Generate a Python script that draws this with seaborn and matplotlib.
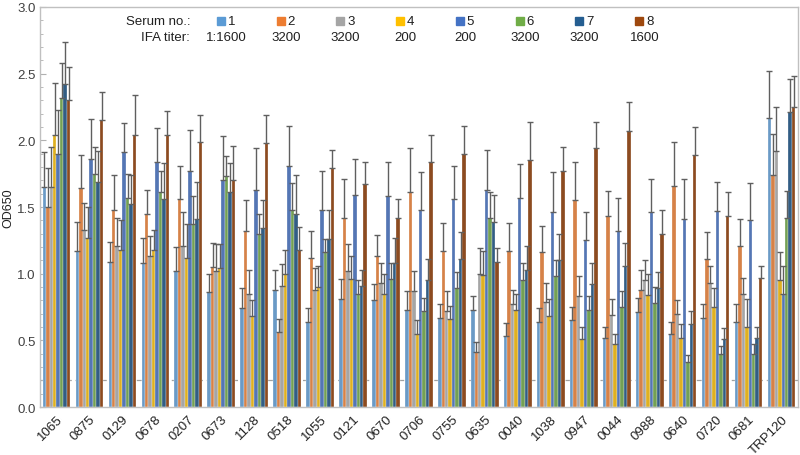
import numpy as np
import pandas as pd
import seaborn as sns
from matplotlib import pyplot as plt
from matplotlib.patches import Rectangle
from matplotlib.ticker import MultipleLocator, FormatStrFormatter

categories = ["1065", "0875", "0129", "0678", "0207", "0673", "1128", "0518",
              "1055", "0121", "0670", "0706", "0755", "0635", "0040", "1038",
              "0947", "0044", "0988", "0640", "0720", "0681", "TRP120"]
serum_no = ["1", "2", "3", "4", "5", "6", "7", "8"]
ifa_titer = ["1:1600", "3200", "3200", "200", "200", "3200", "3200", "1600"]
colors = ["#5B9BD5", "#ED7D31", "#A5A5A5", "#FFC000",
          "#4472C4", "#70AD47", "#255E91", "#9E480E"]

# mean OD650 per serum (one list per serum, in category order)
s1 = [1.65, 1.17, 1.09, 1.08, 1.02, 0.86, 0.74, 0.88, 0.64, 0.81, 0.80, 0.73,
      0.67, 0.73, 0.53, 0.64, 0.65, 0.52, 0.71, 0.55, 0.67, 0.64, 2.17]
s2 = [1.50, 1.64, 1.48, 1.45, 1.56, 1.05, 1.32, 0.56, 1.12, 1.42, 1.13, 1.61,
      1.17, 0.41, 1.17, 1.16, 1.55, 1.43, 0.88, 1.66, 1.11, 1.21, 1.74]
s3 = [1.65, 1.33, 1.21, 1.13, 1.21, 1.02, 0.85, 0.91, 0.88, 1.02, 0.93, 0.87,
      0.72, 1.00, 0.77, 0.79, 0.83, 0.69, 0.95, 0.70, 0.93, 0.85, 1.92]
s4 = [2.04, 1.27, 1.18, 1.18, 1.12, 1.04, 0.68, 1.00, 0.90, 0.96, 0.85, 0.55,
      0.66, 0.99, 0.73, 0.68, 0.51, 0.47, 0.84, 0.52, 0.75, 0.60, 0.95]
s5 = [1.90, 1.86, 1.91, 1.84, 1.77, 1.70, 1.63, 1.81, 1.48, 1.59, 1.58, 1.48,
      1.56, 1.63, 1.57, 1.46, 1.25, 1.32, 1.46, 1.41, 1.47, 1.40, 0.85]
s6 = [2.32, 1.75, 1.57, 1.61, 1.37, 1.73, 1.30, 1.48, 1.16, 0.85, 0.96, 0.72,
      0.89, 1.42, 0.95, 0.98, 0.73, 0.75, 0.78, 0.34, 0.40, 0.40, 1.42]
s7 = [2.42, 1.69, 1.52, 1.56, 1.41, 1.61, 1.34, 1.45, 1.26, 0.91, 1.08, 0.95,
      1.11, 1.39, 1.03, 1.10, 0.92, 1.06, 0.89, 0.62, 0.51, 0.52, 2.21]
s8 = [2.30, 2.15, 2.04, 2.04, 1.99, 1.70, 1.98, 1.18, 1.79, 1.67, 1.42, 1.84,
      1.90, 1.09, 1.85, 1.77, 1.94, 2.07, 1.30, 1.89, 1.43, 0.97, 2.25]

# top of the error bar per serum
e1 = [1.91, 1.39, 1.24, 1.27, 1.20, 1.00, 0.89, 1.03, 0.74, 0.96, 0.92, 0.87,
      0.77, 0.83, 0.63, 0.74, 0.75, 0.60, 0.82, 0.64, 0.77, 0.77, 2.52]
e2 = [1.79, 1.89, 1.74, 1.63, 1.81, 1.23, 1.55, 0.66, 1.32, 1.71, 1.29, 1.94,
      1.38, 0.49, 1.38, 1.36, 1.84, 1.62, 1.03, 1.99, 1.31, 1.41, 2.05]
e3 = [1.95, 1.53, 1.42, 1.28, 1.46, 1.22, 1.03, 1.07, 1.04, 1.22, 1.08, 1.02,
      0.87, 1.19, 0.88, 0.93, 0.98, 0.81, 1.10, 0.80, 1.06, 0.97, 2.25]
e4 = [2.43, 1.50, 1.40, 1.33, 1.37, 1.22, 0.80, 1.18, 1.06, 1.13, 1.00, 0.65,
      0.76, 1.17, 0.85, 0.81, 0.60, 0.55, 1.00, 0.62, 0.89, 0.81, 1.16]
e5 = [2.23, 2.16, 2.13, 2.09, 2.08, 2.03, 1.94, 2.11, 1.77, 1.86, 1.84, 1.76,
      1.81, 1.93, 1.82, 1.76, 1.46, 1.57, 1.71, 1.71, 1.69, 1.68, 1.06]
e6 = [2.58, 1.95, 1.75, 1.77, 1.58, 1.88, 1.45, 1.68, 1.26, 0.95, 1.08, 0.82,
      1.01, 1.61, 1.08, 1.10, 0.83, 0.87, 0.90, 0.39, 0.46, 0.47, 1.62]
e7 = [2.74, 1.92, 1.74, 1.83, 1.69, 1.83, 1.55, 1.74, 1.48, 1.03, 1.27, 1.11,
      1.31, 1.59, 1.21, 1.30, 1.08, 1.23, 1.01, 0.72, 0.59, 0.60, 2.46]
e8 = [2.55, 2.36, 2.34, 2.22, 2.19, 1.96, 2.19, 1.35, 1.93, 1.84, 1.56, 2.04,
      2.11, 1.19, 2.14, 1.95, 2.14, 2.29, 1.48, 2.10, 1.61, 1.06, 2.48]

means = [s1, s2, s3, s4, s5, s6, s7, s8]
tops = [e1, e2, e3, e4, e5, e6, e7, e8]

df = pd.DataFrame({
    "antigen": categories * len(serum_no),
    "serum": [s for s in serum_no for _ in categories],
    "od": np.concatenate(means),
})

sns.set_style("white")
plt.rcParams["font.family"] = ["Liberation Sans", "DejaVu Sans"]

fig = plt.figure(figsize=(8, 4.56), dpi=100)
ax = fig.add_axes([0.05, 0.105, 0.9475, 0.8775])

sns.barplot(data=df, x="antigen", y="od", hue="serum", palette=colors,
            width=0.84, errorbar=None, legend=False, ax=ax,
            edgecolor="white", linewidth=0.2)

for cont, m, t in zip(ax.containers, means, tops):
    xs = [b.get_x() + b.get_width() / 2 for b in cont]
    up = np.array(t) - np.array(m)
    ax.errorbar(xs, m, yerr=[np.zeros_like(up), up], fmt="none",
                ecolor="#5f5f5f", elinewidth=1, capsize=2.5, capthick=1)

ax.axhline(0.2, color="#a0a0a0", linestyle=(0, (4, 3)), linewidth=0.9, zorder=0)

ax.set_xlim(-0.5, len(categories) - 0.5)
ax.set_ylim(0, 3.0)
ax.yaxis.set_major_locator(MultipleLocator(0.5))
ax.yaxis.set_minor_locator(MultipleLocator(0.1))
ax.yaxis.set_major_formatter(FormatStrFormatter("%.1f"))
ax.tick_params(axis="y", which="both", direction="in", left=True,
               colors="#404040", labelsize=9.5, pad=3)
ax.tick_params(axis="y", which="major", length=4, color="#b0b0b0")
ax.tick_params(axis="y", which="minor", length=2.5, color="#b0b0b0")
ax.tick_params(axis="x", length=0, labelsize=9.5, colors="#202020", pad=4)
plt.setp(ax.get_xticklabels(), rotation=45, ha="right", rotation_mode="anchor")
ax.set_xlabel("")
ax.set_ylabel("OD650", fontsize=9, color="#202020")
ax.yaxis.set_label_coords(-0.034, 0.5)

for sp in ax.spines.values():
    sp.set_color("#c0c0c0")
    sp.set_linewidth(1)

# legend drawn as a two-row text block
row1, row2 = 1 - 22 / 456, 1 - 38 / 456
fig.text(190 / 800, row1, "Serum no.:", fontsize=9.5, ha="right",
         va="center", color="#202020")
fig.text(190 / 800, row2, "IFA titer:", fontsize=9.5, ha="right",
         va="center", color="#202020")
for i, (num, titer, c) in enumerate(zip(serum_no, ifa_titer, colors)):
    x0 = 0.271 + i * 0.0747
    fig.patches.append(Rectangle((x0, row1 - 4 / 456), 8 / 800, 8 / 456,
                                 transform=fig.transFigure, color=c))
    fig.text(x0 + 0.0135, row1, num, fontsize=9.5, ha="left", va="center",
             color="#202020")
    fig.text(x0 + 0.0115, row2, titer, fontsize=9.5, ha="center",
             va="center", color="#202020")

fig.savefig("out.png", dpi=100)
